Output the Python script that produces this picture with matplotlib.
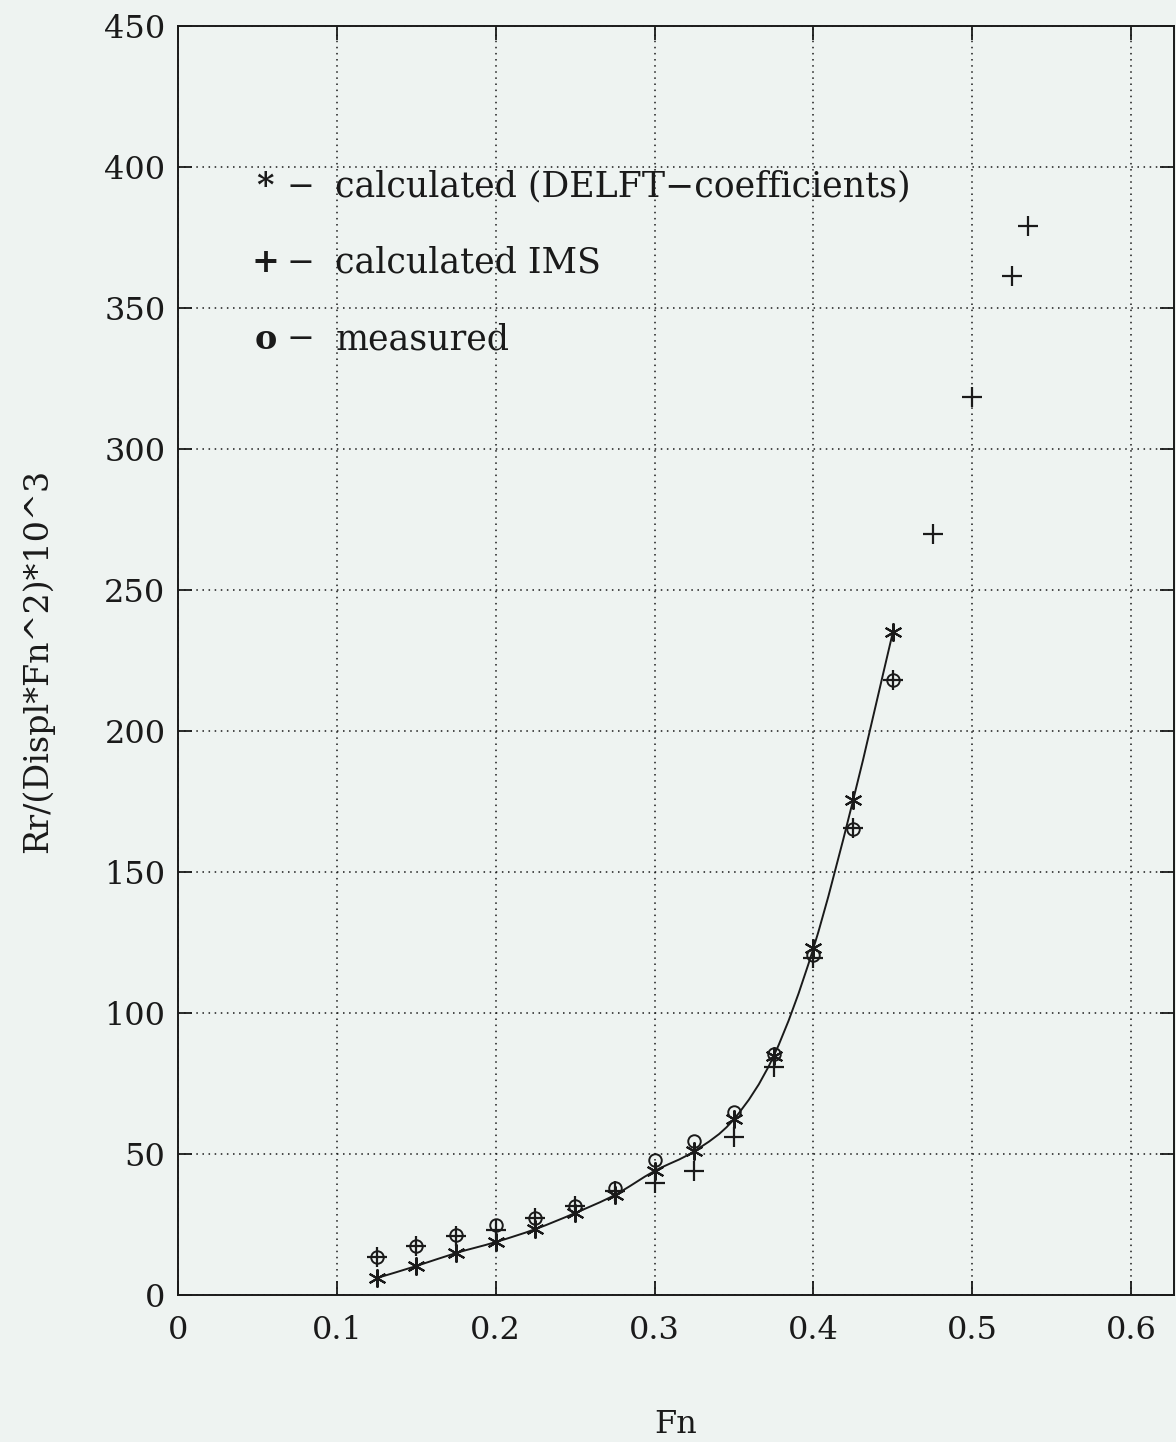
import matplotlib
matplotlib.use("Agg")
import matplotlib.pyplot as plt
from matplotlib.path import Path
from matplotlib.patches import PathPatch

# Froude number stations
fn = [0.125, 0.15, 0.175, 0.2, 0.225, 0.25, 0.275, 0.3, 0.325, 0.35,
      0.375, 0.4, 0.425, 0.45]

# Residual resistance coefficient, calculated with DELFT coefficients
r_delft = [6.0, 10.3, 14.9, 18.8, 23.4, 29.1, 35.5, 44.0, 51.0, 62.4,
           84.8, 123.0, 175.5, 235.0]

# Measured values
r_measured = [13.5, 17.4, 21.3, 24.8, 27.3, 31.6, 38.0, 47.9, 54.6, 64.9,
              85.5, 120.6, 165.2, 218.0]

# Calculated IMS values (extends to higher Fn)
fn_ims = [0.125, 0.15, 0.175, 0.2, 0.225, 0.25, 0.275, 0.3, 0.325, 0.35,
          0.375, 0.4, 0.425, 0.45, 0.475, 0.5, 0.525, 0.535]
r_ims = [13.5, 17.4, 21.0, 23.0, 27.3, 31.5, 37.0, 39.7, 44.0, 56.0,
         81.0, 119.5, 165.6, 218.0, 270.0, 318.4, 361.3, 379.0]

x_ticks = [0, 0.1, 0.2, 0.3, 0.4, 0.5, 0.6]
x_tick_labels = ["0", "0.1", "0.2", "0.3", "0.4", "0.5", "0.6"]
y_ticks = [0, 50, 100, 150, 200, 250, 300, 350, 400, 450]

legend_rows = [("*", "calculated (DELFT\u2212coefficients)", 393),
               ("+", "calculated IMS", 366),
               ("o", "measured", 339)]

bg = "#eef3f1"
ink = "#1a1a1a"
serif = ["DejaVu Serif"]


def smooth_path(xs, ys):
    """Cubic Bezier path through the points with Catmull-Rom tangents."""
    n = len(xs)
    tangents = []
    for i in range(n):
        if i == 0:
            tangents.append((ys[1] - ys[0]) / (xs[1] - xs[0]))
        elif i == n - 1:
            tangents.append((ys[-1] - ys[-2]) / (xs[-1] - xs[-2]))
        else:
            tangents.append((ys[i + 1] - ys[i - 1]) / (xs[i + 1] - xs[i - 1]))
    verts = [(xs[0], ys[0])]
    codes = [Path.MOVETO]
    for i in range(n - 1):
        h = xs[i + 1] - xs[i]
        verts += [(xs[i] + h / 3, ys[i] + tangents[i] * h / 3),
                  (xs[i + 1] - h / 3, ys[i + 1] - tangents[i + 1] * h / 3),
                  (xs[i + 1], ys[i + 1])]
        codes += [Path.CURVE4] * 3
    return Path(verts, codes)


fig = plt.figure(figsize=(11.76, 14.42), dpi=100, facecolor=bg)
ax = fig.add_axes([0.1514, 0.1019, 0.8469, 0.8801], facecolor=bg)

ax.set_xlim(0, 0.627)
ax.set_ylim(0, 450)

ax.grid(True, linestyle=(0, (1, 3)), color=ink, linewidth=1.1)

ax.add_patch(PathPatch(smooth_path(fn, r_delft), facecolor="none",
                       edgecolor=ink, linewidth=1.4, zorder=3))
ax.plot(fn, r_delft, linestyle="none", marker=(6, 2, 0), markersize=13,
        markeredgewidth=1.5, color=ink, zorder=4)
ax.plot(fn_ims, r_ims, linestyle="none", marker="+", markersize=15,
        markeredgewidth=1.6, color=ink, zorder=4)
ax.plot(fn, r_measured, linestyle="none", marker="o", markersize=9,
        markerfacecolor="none", markeredgewidth=1.4, color=ink, zorder=4)

for sym, label, yv in legend_rows:
    ax.text(0.055, yv, sym, fontsize=24, family=serif, color=ink,
            ha="center", va="center", fontweight="bold")
    ax.text(0.077, yv, "\u2212", fontsize=24, family=serif, color=ink,
            ha="center", va="center")
    ax.text(0.099, yv, label, fontsize=25, family=serif, color=ink,
            ha="left", va="center")

ax.set_xticks(x_ticks)
ax.set_xticklabels(x_tick_labels)
ax.set_yticks(y_ticks)
ax.tick_params(direction="in", length=10, width=1.3, colors=ink,
               labelsize=23, top=True, right=True)
ax.tick_params(axis="x", pad=14)
ax.tick_params(axis="y", pad=9)
for lab in ax.get_xticklabels() + ax.get_yticklabels():
    lab.set_family(serif)

for sp in ax.spines.values():
    sp.set_linewidth(1.4)
    sp.set_color(ink)

ax.set_xlabel("Fn", fontsize=23, family=serif, color=ink, labelpad=46)
ax.set_ylabel("Rr/(Displ*Fn^2)*10^3", fontsize=24, family=serif, color=ink,
              labelpad=36)

fig.savefig("out.png", dpi=100, facecolor=bg)
